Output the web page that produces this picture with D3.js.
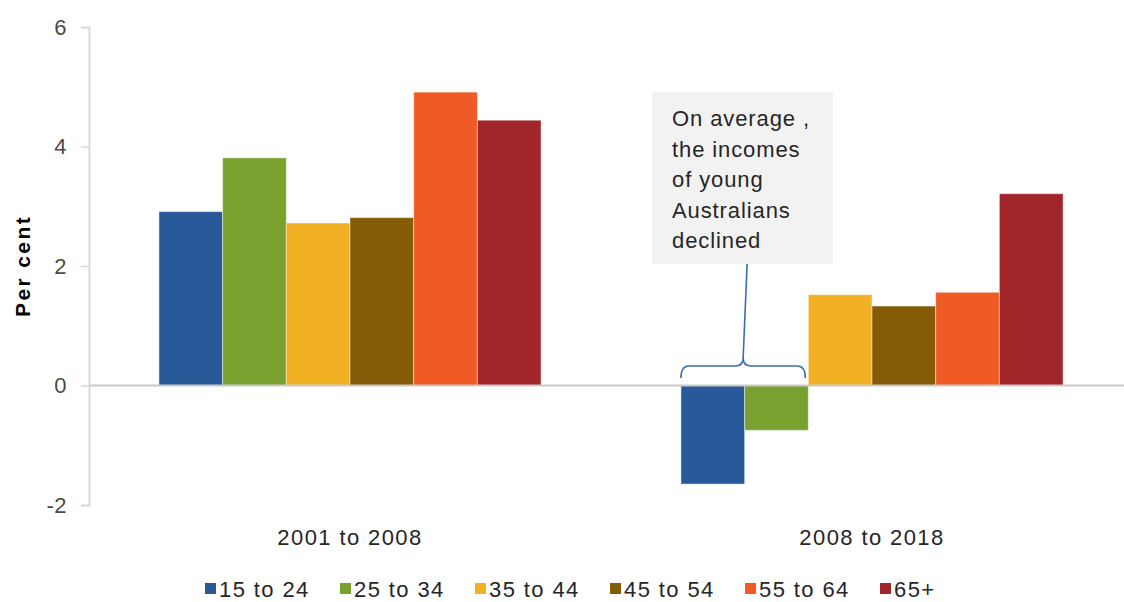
<!DOCTYPE html>
<html>
<head>
<meta charset="utf-8">
<script src="https://cdn.jsdelivr.net/npm/d3@7"></script>
<style>
  html, body { margin: 0; padding: 0; background: #fff; }
  svg { display: block; }
  text { font-family: "Liberation Sans", Arial, sans-serif; }
</style>
</head>
<body>
<svg id="chart" width="1124" height="602"></svg>
<script>
// Income growth by age group, per cent
const periods = ["2001 to 2008", "2008 to 2018"];
const ageGroups = ["15 to 24", "25 to 34", "35 to 44", "45 to 54", "55 to 64", "65+"];
const colours = ["#285a99", "#78a130", "#f2b024", "#845c08", "#f05a25", "#a1262a"];
const growth2001to2008 = [2.91, 3.81, 2.72, 2.81, 4.91, 4.44];
const growth2008to2018 = [-1.65, -0.75, 1.52, 1.33, 1.56, 3.21];
const yTicks = [-2, 0, 2, 4, 6];
const noteLines = ["On average ,", "the incomes", "of young", "Australians", "declined"];

const seriesByPeriod = [growth2001to2008, growth2008to2018];
const rows = periods.map((p, i) => ({
  period: p,
  values: ageGroups.map((g, j) => ({ group: g, value: seriesByPeriod[i][j], colour: colours[j] }))
}));

const svg = d3.select("#chart");
const axisX = 89;

const x0 = d3.scaleBand()
  .domain(periods)
  .range([axisX, 1133])
  .paddingInner(0.268)
  .paddingOuter(0.134);

const x1 = d3.scaleBand()
  .domain(ageGroups)
  .range([0, x0.bandwidth()]);

const y = d3.scaleLinear()
  .domain([-2, 6])
  .range([505, 27]);

// y axis: light line with outward ticks, plain hyphen for negatives
const yAxis = d3.axisLeft(y).tickValues(yTicks).tickSize(8).tickPadding(14).tickFormat(d => String(d));
const yg = svg.append("g").attr("transform", `translate(${axisX},0)`).call(yAxis);
yg.select(".domain").attr("stroke", "#d9d9d9").attr("stroke-width", 2);
yg.selectAll(".tick line").attr("stroke", "#d9d9d9").attr("stroke-width", 1.5);
yg.selectAll(".tick text")
  .attr("font-size", 22)
  .attr("fill", "#4a4a4a")
  .attr("font-family", "'Liberation Sans', Arial, sans-serif")
  .style("letter-spacing", "0.5px");

// bars
const groups = svg.append("g").selectAll("g")
  .data(rows)
  .join("g")
  .attr("transform", d => `translate(${x0(d.period)},0)`);

groups.selectAll("rect")
  .data(d => d.values)
  .join("rect")
  .attr("x", d => x1(d.group))
  .attr("width", x1.bandwidth())
  .attr("y", d => y(Math.max(0, d.value)))
  .attr("height", d => Math.abs(y(d.value) - y(0)))
  .attr("fill", d => d.colour)
  .attr("stroke", "rgba(255,255,255,0.45)")
  .attr("stroke-width", 1);

// zero line
svg.append("line")
  .attr("x1", axisX).attr("x2", 1124)
  .attr("y1", y(0)).attr("y2", y(0))
  .attr("stroke", "#c9c9c9").attr("stroke-width", 2);

// category labels
svg.append("g").selectAll("text")
  .data(periods)
  .join("text")
  .attr("x", d => x0(d) + x0.bandwidth() / 2)
  .attr("y", 545)
  .attr("text-anchor", "middle")
  .attr("font-size", 22)
  .attr("fill", "#262626")
  .style("letter-spacing", "1.4px")
  .text(d => d);

// y axis title
svg.append("text")
  .attr("transform", "translate(30,266) rotate(-90)")
  .attr("text-anchor", "middle")
  .attr("font-size", 21)
  .attr("font-weight", "bold")
  .attr("fill", "#000")
  .style("letter-spacing", "2.4px")
  .text("Per cent");

// annotation box
const note = svg.append("g");
note.append("rect")
  .attr("x", 652).attr("y", 92)
  .attr("width", 181).attr("height", 172)
  .attr("fill", "#f2f2f2");
note.selectAll("text")
  .data(noteLines)
  .join("text")
  .attr("x", 672)
  .attr("y", (d, i) => 126 + i * 30.5)
  .attr("font-size", 22)
  .attr("fill", "#262626")
  .style("letter-spacing", "0.9px")
  .text(d => d);

// brace over the two youngest groups in the later period
const bx0 = x0(periods[1]) + x1(ageGroups[0]);
const bx1 = x0(periods[1]) + x1(ageGroups[1]) + x1.bandwidth() - 3;
const bMid = (bx0 + bx1) / 2;
const bTop = 366, bEnd = 378, r = 8;
const brace = d3.path();
brace.moveTo(bx0, bEnd);
brace.quadraticCurveTo(bx0, bTop, bx0 + r, bTop);
brace.lineTo(bMid - r, bTop);
brace.quadraticCurveTo(bMid, bTop, bMid, bTop - r);
brace.quadraticCurveTo(bMid, bTop, bMid + r, bTop);
brace.lineTo(bx1 - r, bTop);
brace.quadraticCurveTo(bx1, bTop, bx1, bEnd);
brace.moveTo(bMid, bTop - r);
brace.lineTo(bMid + 4, 264);
svg.append("path")
  .attr("d", brace.toString())
  .attr("fill", "none")
  .attr("stroke", "#3a6db0")
  .attr("stroke-width", 1.6);

// legend
const legend = svg.append("g").selectAll("g")
  .data(ageGroups)
  .join("g")
  .attr("transform", (d, i) => `translate(${205 + i * 135},0)`);
legend.append("rect")
  .attr("x", 0).attr("y", 583)
  .attr("width", 11).attr("height", 11)
  .attr("fill", (d, i) => colours[i]);
legend.append("text")
  .attr("x", 14).attr("y", 597)
  .attr("font-size", 22)
  .attr("fill", "#262626")
  .style("letter-spacing", "1.4px")
  .text(d => d);
</script>
</body>
</html>
